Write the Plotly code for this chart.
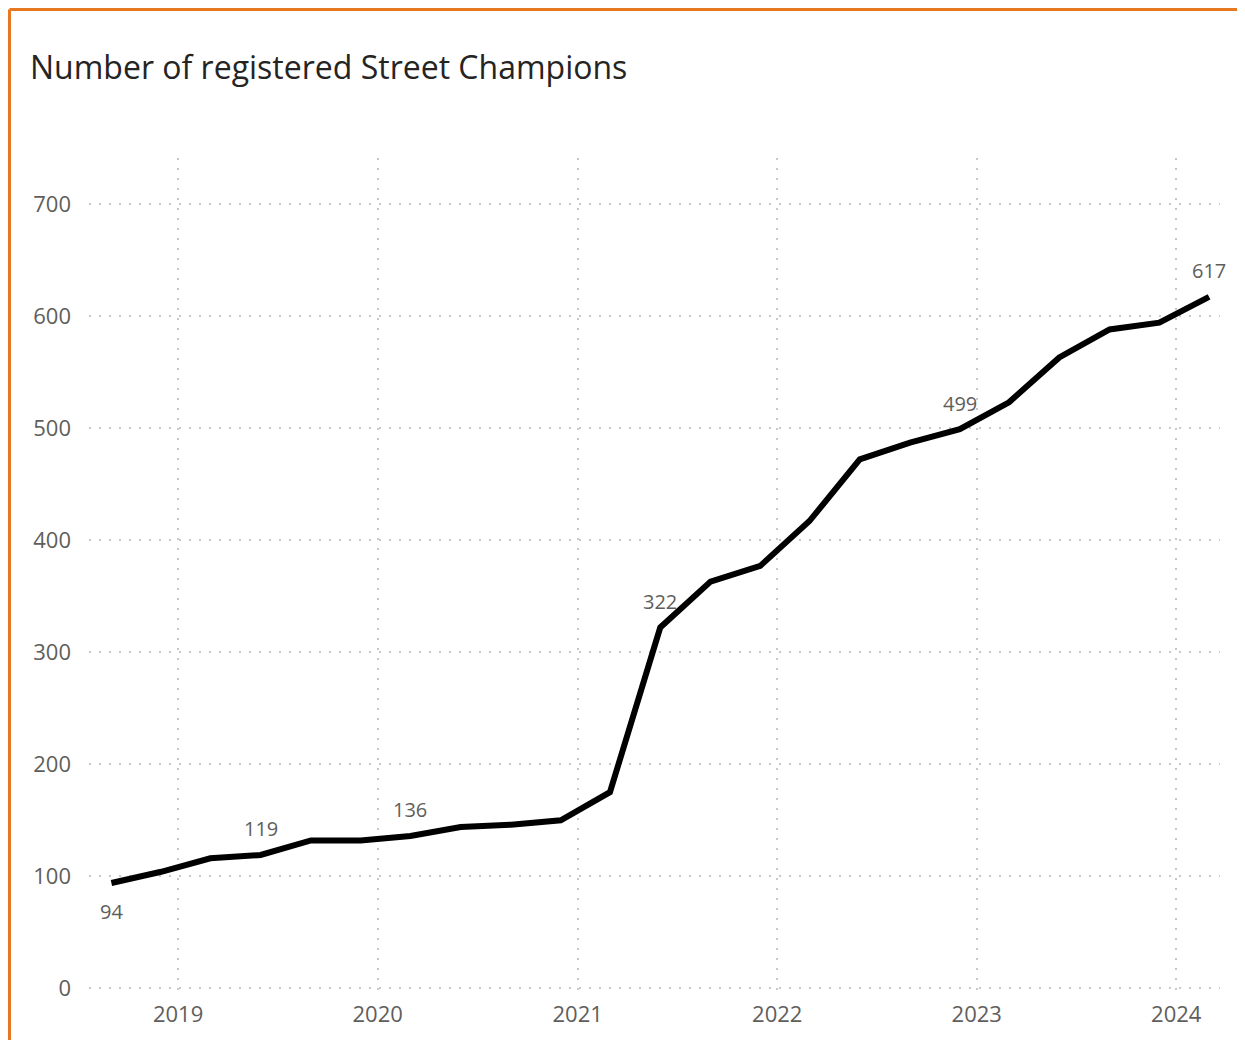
import plotly.graph_objects as go

dates = ["2018-09-01", "2018-12-01", "2019-03-01", "2019-06-01", "2019-09-01", "2019-12-01",
         "2020-03-01", "2020-06-01", "2020-09-01", "2020-12-01", "2021-03-01", "2021-06-01",
         "2021-09-01", "2021-12-01", "2022-03-01", "2022-06-01", "2022-09-01", "2022-12-01",
         "2023-03-01", "2023-06-01", "2023-09-01", "2023-12-01", "2024-03-01"]
champions = [94, 104, 116, 119, 132, 132, 136, 144, 146, 150, 175, 322,
             363, 377, 417, 472, 487, 499, 523, 563, 588, 594, 617]
label_idx = [0, 3, 6, 11, 17, 22]
label_below = [0]

FONT = "Open Sans"
GREY = "#605E5C"

W, H = 1229, 1032
L, R, T, B = 81, 17, 150, 50
PW, PH = W - L - R, H - T - B

fig = go.Figure()
fig.add_trace(go.Scatter(x=dates, y=champions, mode="lines",
                         line=dict(color="#000000", width=6),
                         hoverinfo="x+y", showlegend=False))

for i in label_idx:
    fig.add_annotation(x=dates[i], y=champions[i], text=str(champions[i]),
                       showarrow=False, yshift=-29 if i in label_below else 26,
                       font=dict(family=FONT, size=20, color=GREY))

# orange frame (top and left)
fx = (1.5 - L) / PW
fy = (PH + T - 1.5) / PH
fig.add_shape(type="line", xref="paper", yref="paper",
              x0=fx, x1=(W - L) / PW, y0=fy, y1=fy,
              line=dict(color="#E87722", width=3))
fig.add_shape(type="line", xref="paper", yref="paper",
              x0=fx, x1=fx, y0=-B / PH, y1=fy,
              line=dict(color="#E87722", width=3))

fig.update_layout(
    width=W, height=H,
    margin=dict(l=L, r=R, t=T, b=B),
    paper_bgcolor="white", plot_bgcolor="white",
    title=dict(text="Number of registered Street Champions",
               x=22 / W, xanchor="left", y=1 - 60 / H, yanchor="middle",
               font=dict(family=FONT, size=32, color="#252423")),
    font=dict(family=FONT, color=GREY),
)
fig.update_xaxes(range=["2018-07-22", "2024-03-21"], type="date",
                 tick0="2019-01-01", dtick="M12", tickformat="%Y",
                 showgrid=True, gridcolor="#C8C8C8", gridwidth=1.5, griddash="2px,8px",
                 zeroline=False, showline=False, ticks="",
                 tickfont=dict(family=FONT, size=22, color=GREY),
                 ticklabelstandoff=9)
fig.update_yaxes(range=[-1.5, 741], tick0=0, dtick=100,
                 showgrid=True, gridcolor="#C8C8C8", gridwidth=1.5, griddash="2px,8px",
                 zeroline=False, showline=False, ticks="",
                 tickfont=dict(family=FONT, size=22, color=GREY),
                 ticklabelstandoff=17)

fig.write_html("out.html")
